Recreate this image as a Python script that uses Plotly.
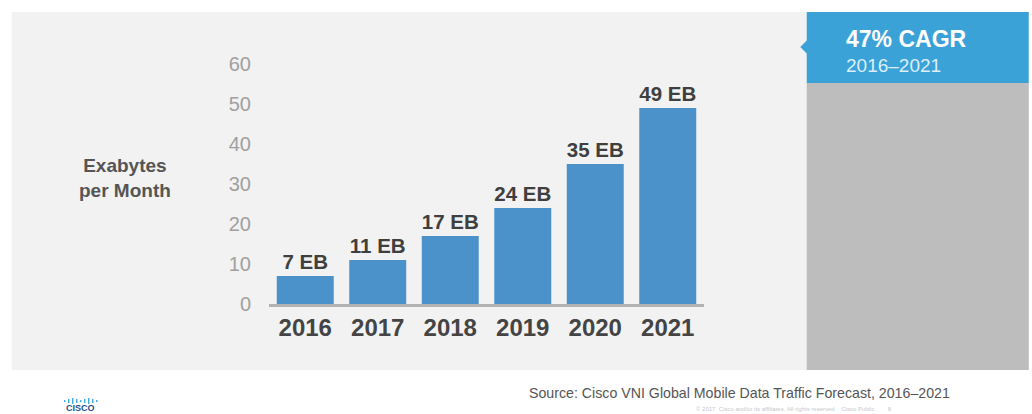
import plotly.graph_objects as go

years = ["2016", "2017", "2018", "2019", "2020", "2021"]
exabytes = [7, 11, 17, 24, 35, 49]
labels = ["7 EB", "11 EB", "17 EB", "24 EB", "35 EB", "49 EB"]
y_ticks = [0, 10, 20, 30, 40, 50, 60]

W, H = 1032, 414
L, R, T, B = 269.25, 704.25, 64, 304

def px(x):
    return (x - L) / (R - L)

def py(y):
    return 1 - (y - T) / (B - T)

FONT = "Liberation Sans, Arial, Helvetica, sans-serif"

fig = go.Figure(go.Bar(
    x=years, y=exabytes,
    marker=dict(color="#4A92C9", line=dict(width=0)),
    text=labels, textposition="outside",
    textfont=dict(family=FONT, size=20.5, color="#3f3f3f", weight="bold"),
    cliponaxis=False, width=0.786,
))

shapes = [
    dict(type="rect", xref="paper", yref="paper", x0=px(12), x1=px(1029), y0=py(370), y1=py(12),
         fillcolor="#F2F2F2", line=dict(width=0), layer="below"),
    dict(type="rect", xref="paper", yref="paper", x0=px(807), x1=px(1029), y0=py(370), y1=py(83),
         fillcolor="#BDBDBD", line=dict(width=0), layer="below"),
    dict(type="rect", xref="paper", yref="paper", x0=px(807), x1=px(1029), y0=py(83), y1=py(12),
         fillcolor="#3BA2D8", line=dict(width=0), layer="below"),
    dict(type="path", xref="paper", yref="paper",
         path=f"M {px(807.5)},{py(40)} L {px(800.5)},{py(47)} L {px(807.5)},{py(54)} Z",
         fillcolor="#3BA2D8", line=dict(width=0), layer="below"),
]

# cisco logo bars (decorative)
logo_h = [2, 4, 6, 4, 2, 4, 6, 4, 2]
for i, h in enumerate(logo_h):
    x = 65 + i * 4
    shapes.append(dict(type="line", xref="paper", yref="paper",
                       x0=px(x), x1=px(x), y0=py(401 + h / 2), y1=py(401 - h / 2),
                       line=dict(color="#2FA3DA", width=1.3)))

fig.update_layout(shapes=shapes)

def ann(text, x, y, size, color, xanchor="center"):
    f = dict(family=FONT, size=size, color=color)
    return dict(text=text, x=px(x), y=py(y), xref="paper", yref="paper",
                xanchor=xanchor, yanchor="middle", showarrow=False, font=f, align="center")

annotations = [
    ann("<b>Exabytes<br>per Month</b>", 125, 178, 19, "#555555"),
    ann("<b>47% CAGR</b>", 844, 39, 23, "#FFFFFF", xanchor="left"),
    ann("2016–2021", 844, 65, 19, "#DCEFFA", xanchor="left"),
    ann("Source: Cisco VNI Global Mobile Data Traffic Forecast, 2016–2021", 527, 393, 14.2, "#555555",
        xanchor="left"),
    ann("© 2017  Cisco and/or its affiliates. All rights reserved.   Cisco Public        8", 694, 409, 6,
        "#C8C8C8", xanchor="left"),
    ann("<b>CISCO</b>", 81, 408, 9, "#1D4F91"),
]
fig.update_layout(annotations=annotations)

fig.update_layout(
    width=W, height=H,
    margin=dict(l=L, r=W - R, t=T, b=H - B, pad=0),
    paper_bgcolor="#FFFFFF", plot_bgcolor="rgba(0,0,0,0)",
    showlegend=False, bargap=0.214,
    font=dict(family=FONT),
    xaxis=dict(range=[-0.5, 5.5], showline=True, linecolor="#B3B3B3", linewidth=3,
               showgrid=False, zeroline=False, ticks="", ticklen=0,
               tickfont=dict(family=FONT, size=24, color="#444444", weight="bold")),
    yaxis=dict(range=[0, 60], tickvals=y_ticks, showgrid=False, zeroline=False, showline=False,
               ticks="outside", ticklen=13, tickcolor="rgba(0,0,0,0)",
               tickfont=dict(family=FONT, size=20, color="#A0A0A0")),
)

fig.write_html("out.html")
